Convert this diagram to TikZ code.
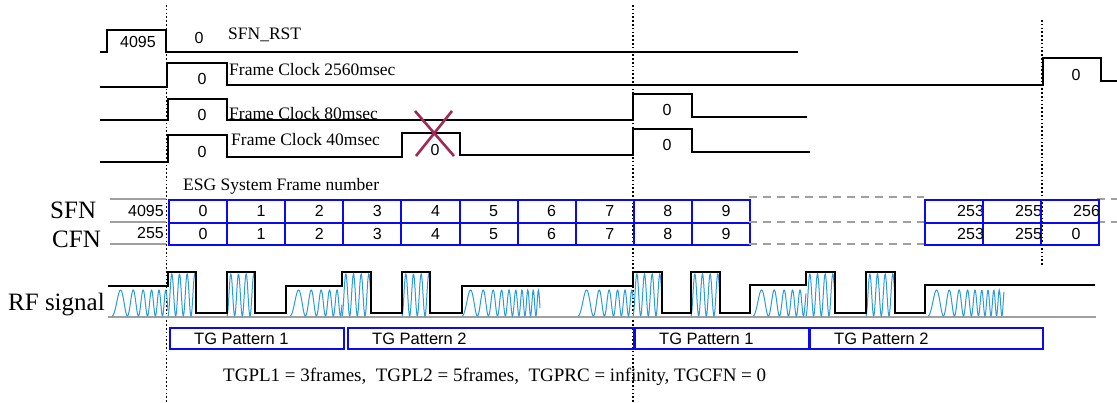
\documentclass[tikz,border=0pt]{standalone}
\usepackage{fontspec}
\setmainfont{Liberation Serif}
\setsansfont{Liberation Sans}
\usetikzlibrary{positioning}
\definecolor{cellblue}{HTML}{0A0AF0}
\definecolor{rfblue}{HTML}{2A9AD8}
\definecolor{railgray}{HTML}{A0A0A0}
\definecolor{crossred}{HTML}{9E2A55}

\tikzset{
  wave/.style={black,line width=2pt},
  marker/.style={black,line width=1.6pt,dash pattern=on 1.6pt off 2.2pt},
  rail/.style={railgray,line width=2pt},
  railgap/.style={railgray,line width=2pt,dash pattern=on 8pt off 6pt},
  cell/.style={draw=cellblue,line width=2pt,minimum width=58.1pt,minimum height=22.5pt,inner sep=0pt,anchor=north west},
  digit/.style={font=\sffamily\fontsize{16}{16}\selectfont,inner sep=0pt},
  lbl/.style={font=\fontsize{17.5}{17.5}\selectfont,inner sep=0pt,anchor=base west},
  big/.style={font=\fontsize{25}{25}\selectfont,inner sep=0pt,anchor=base west},
  tgbox/.style={draw=cellblue,line width=2pt,minimum height=21pt,inner sep=0pt,anchor=north west},
  tgtext/.style={font=\sffamily\fontsize{16.5}{16.5}\selectfont,inner sep=0pt,anchor=west},
  fast/.style={rfblue,line width=1pt,samples=90,smooth},
  slow/.style={rfblue,line width=1pt,samples=160,smooth},
}

\begin{document}
\begin{tikzpicture}[x=1pt,y=-1pt]
\useasboundingbox (0,0) rectangle (1117,402);

% frame markers
\draw[marker] (166.5,5) -- (166.5,402);
\draw[marker] (633,5) -- (633,402);
\draw[marker] (1042,20) -- (1042,265);

% clock waveforms
\draw[wave] (100,52) -- (107,52) -- (107,30) -- (166,30) -- (166,52) -- (798,52);
\draw[wave] (100,87) -- (167,87) -- (167,63) -- (227,63) -- (227,85) -- (1043,85) -- (1043,58) -- (1101,58) -- (1101,81) -- (1117,81);
\draw[wave] (100,120) -- (168,120) -- (168,99) -- (227,99) -- (227,120) -- (633,120) -- (633,94) -- (692,94) -- (692,117) -- (807,117);
\draw[wave] (100,162) -- (168,162) -- (168,135) -- (227,135) -- (227,157) -- (402,157) -- (402,133) -- (460,133) -- (460,155) -- (633,155) -- (633,129) -- (692,129) -- (692,152) -- (810,152);

\node[digit] (rst4095) at (138,42) {4095};
\node[digit] (rst0) at (199,38) {0};
\node[lbl] (rst) at (228,39) {SFN\_RST};
\node[digit] (fc2560a) at (202,79) {0};
\node[lbl] (fc2560) at (229,75) {Frame Clock 2560msec};
\node[digit] (fc2560b) at (1076,75) {0};
\node[digit] (fc80a) at (202,115) {0};
\node[lbl] (fc80) at (229,119) {Frame Clock 80msec};
\node[digit] (fc80b) at (667,110) {0};
\node[digit] (fc40a) at (202,152) {0};
\node[lbl] (fc40) at (231,145) {Frame Clock 40msec};
\node[digit] (fc40x) at (435,150) {0};
\node[digit] (fc40b) at (667,145) {0};
\draw[crossred,line width=2.6pt] (415,111) -- (454,156) (452,111) -- (416,156);

% frame number table
\node[lbl] (esg) at (183,190) {ESG System Frame number};
\node[big] (sfnlbl) at (50,218) {SFN};
\node[big] (cfnlbl) at (52,247) {CFN};
\draw[rail] (110,199) -- (166,199) (110,222) -- (166,222) (110,244) -- (166,244);
\node[digit,anchor=east] (sfnprev) at (164,211) {4095};
\node[digit,anchor=east] (cfnprev) at (164,233) {255};
\foreach \i in {0,...,9} {
  \node[cell] (sfn\i) at ({168+58.1*\i},199) {};
  \node[digit] at ([xshift=5pt]sfn\i.center) {\i};
  \node[cell] (cfn\i) at ({168+58.1*\i},221.5) {};
  \node[digit] at ([xshift=5pt]cfn\i.center) {\i};
}
\draw[railgap] (749,197) -- (924,197) (749,222) -- (924,222) (749,244) -- (924,244);
\draw[railgap] (1097,199) -- (1117,199) (1097,222) -- (1117,222);
\foreach \x/\s [count=\k] in {924/253,982/255,1040/256} {
  \node[cell] (sfnr\k) at (\x,199) {};
  \node[digit,anchor=east] at (sfnr\k.east) {\s};
  \node[cell] (cfnr\k) at (\x,221.5) {};
}
\node[digit,anchor=east] at (cfnr1.east) {253};
\node[digit,anchor=east] at (cfnr2.east) {255};
\node[digit] at ([xshift=6pt]cfnr3.center) {0};

% RF signal
\node[big] (rflbl) at (8,310) {RF signal};
\draw[rail] (108,317) -- (1096,317);
\foreach \a/\b in {168/196,227/255,342/371,402/430,633/662,691/720,806/835,866/895}
  \draw[fast] plot[domain=\a:\b] (\x,{295+21*sin(47*(\x-\a)+90)});
\foreach \a/\b in {112/168,290/342,462/540,578/633,753/806,928/1004}
  \draw[slow] plot[domain=\a:\b] (\x,{303+13*cos(18*(\x-\a)+0.35*(\x-\a)^2)});
\draw[wave] (108,286) -- (168,286) -- (168,272) -- (196,272) -- (196,313) -- (227,313) -- (227,272) -- (255,272) -- (255,313) -- (286,313) -- (286,286) -- (342,286) -- (342,272) -- (371,272) -- (371,313) -- (402,313) -- (402,272) -- (430,272) -- (430,313) -- (462,313) -- (462,286) -- (633,286) -- (633,272) -- (662,272) -- (662,313) -- (691,313) -- (691,272) -- (720,272) -- (720,313) -- (750,313) -- (750,285) -- (806,285) -- (806,272) -- (835,272) -- (835,313) -- (866,313) -- (866,272) -- (895,272) -- (895,313) -- (925,313) -- (925,285) -- (1095,285);

% TG patterns
\node[tgbox,minimum width=174pt] (tg1) at (169,327) {};
\node[tgbox,minimum width=286pt] (tg2) at (347,327) {};
\node[tgbox,minimum width=174pt] (tg3) at (634,327) {};
\node[tgbox,minimum width=233pt] (tg4) at (809,327) {};
\node[tgtext,right=25pt of tg1.west] (tg1txt) {TG Pattern 1};
\node[tgtext,right=25pt of tg2.west] (tg2txt) {TG Pattern 2};
\node[tgtext,right=25pt of tg3.west] (tg3txt) {TG Pattern 1};
\node[tgtext,right=25pt of tg4.west] (tg4txt) {TG Pattern 2};
\node[lbl,font=\fontsize{19}{19}\selectfont] (note) at (223,381) {TGPL1 = 3frames,\ \ TGPL2 = 5frames,\ \ TGPRC = infinity, TGCFN = 0};
\end{tikzpicture}
\end{document}
